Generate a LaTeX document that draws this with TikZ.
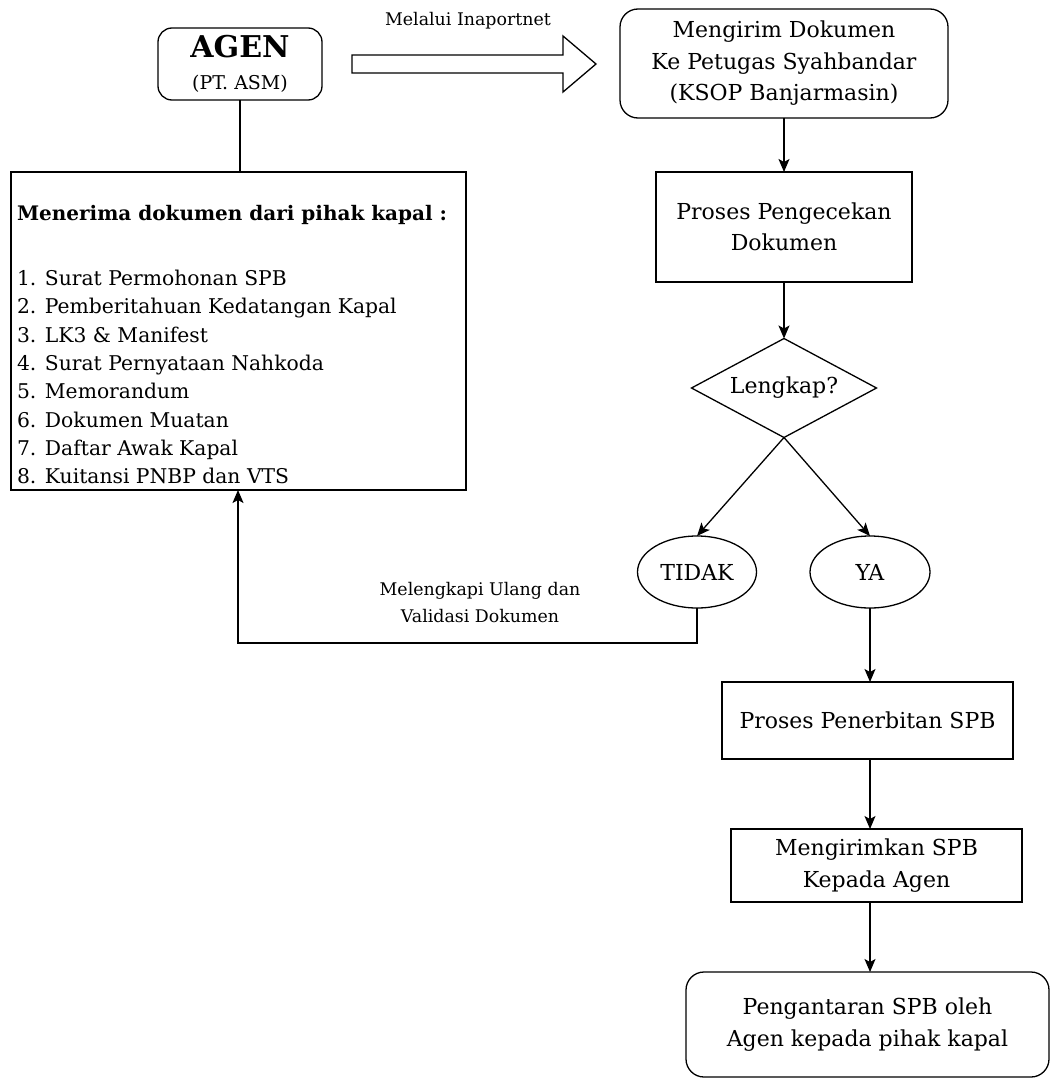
\documentclass[tikz,border=0pt]{standalone}
\usepackage{fontspec}
\setmainfont{DejaVu Serif}
\usetikzlibrary{shapes.geometric,arrows.meta}

\newcommand{\fsz}[2]{\fontsize{#1}{#2}\selectfont}

\begin{document}
\begin{tikzpicture}[x=1pt,y=-1pt,
  every node/.style={inner sep=0pt,outer sep=0pt},
  box/.style={draw,line width=1.3pt,rectangle},
  rbox/.style={box,rounded corners=14pt},
  oval/.style={draw,line width=1.3pt,ellipse},
  decide/.style={draw,line width=1.3pt,diamond},
  body/.style={font=\fsz{22}{31.5},align=center},
  small/.style={font=\fsz{17.4}{27},align=center},
  flow/.style={line width=1.3pt,-{Stealth[length=13pt,width=11pt,inset=3pt]}},
  link/.style={line width=1.3pt}]

% page area
\useasboundingbox (0,0) rectangle (1051,1079);

% agent and the documents it receives
\node[rbox,minimum width=164pt,minimum height=72pt] (agen) at (240,64) {};
\node[font=\bfseries\fsz{30}{32}] (agenname) at (240,47) {AGEN};
\node[font=\fsz{19}{22}] (agensub) at (240,84) {(PT. ASM)};

\node[box,minimum width=455pt,minimum height=318pt] (list) at (238.5,331) {};
\node[anchor=west,font=\bfseries\fsz{20}{28}] (listhead) at (17,215)
  {Menerima dokumen dari pihak kapal :};
\node[anchor=west,align=left,font=\fsz{20.3}{28.3}] (listitems) at (17,377)
  {1. Surat Permohonan SPB\\
   2. Pemberitahuan Kedatangan Kapal\\
   3. LK3 \& Manifest\\
   4. Surat Pernyataan Nahkoda\\
   5. Memorandum\\
   6. Dokumen Muatan\\
   7. Daftar Awak Kapal\\
   8. Kuitansi PNBP dan VTS};

% hollow arrow towards the harbour master
\draw[line width=1.3pt,line join=miter]
  (352,55) -- (563,55) -- (563,36) -- (596,64) -- (563,92) -- (563,73) -- (352,73) -- cycle;
\node[small] (via) at (468,21) {Melalui Inaportnet};

% main flow
\node[rbox,body,minimum width=328pt,minimum height=109pt,rounded corners=18pt] (kirim) at (784,63.5)
  {Mengirim Dokumen\\Ke Petugas Syahbandar\\(KSOP Banjarmasin)};
\node[box,body,minimum width=256pt,minimum height=110pt] (cek) at (784,227)
  {Proses Pengecekan\\Dokumen};
\node[decide,minimum width=185pt,minimum height=99pt] (lengkap) at (784,388) {};
\node[body] (lengkaptext) at (lengkap.center) {Lengkap?};
\node[oval,body,minimum width=119pt,minimum height=72pt] (tidak) at (697,572) {TIDAK};
\node[oval,body,minimum width=120pt,minimum height=72pt] (ya) at (870,572) {YA};
\node[box,body,minimum width=291pt,minimum height=77pt] (terbit) at (867.5,720.5)
  {Proses Penerbitan SPB};
\node[box,body,minimum width=291pt,minimum height=73pt] (kirimspb) at (876.5,865.5)
  {Mengirimkan SPB\\Kepada Agen};
\node[rbox,body,minimum width=363pt,minimum height=105pt,rounded corners=18pt] (antar) at (867.5,1024.5)
  {Pengantaran SPB oleh\\Agen kepada pihak kapal};

\coordinate (bend1) at (697,643);
\coordinate (bend2) at (238,643);
\node[small] (ulang) at (480,603) {Melengkapi Ulang dan\\Validasi Dokumen};

% connectors
\draw[link] (agen.south) -- (agen.south |- list.north);
\draw[flow] (kirim.south) -- (cek.north);
\draw[flow] (cek.south) -- (lengkap.north);
\draw[flow] (lengkap.south) -- (tidak.north);
\draw[flow] (lengkap.south) -- (ya.north);
\draw[flow] (tidak.south) -- (bend1) -- (bend2) -- (bend2 |- list.south);
\draw[flow] (ya.south) -- (ya.south |- terbit.north);
\draw[flow] (ya.south |- terbit.south) -- (ya.south |- kirimspb.north);
\draw[flow] (ya.south |- kirimspb.south) -- (ya.south |- antar.north);
\end{tikzpicture}
\end{document}
